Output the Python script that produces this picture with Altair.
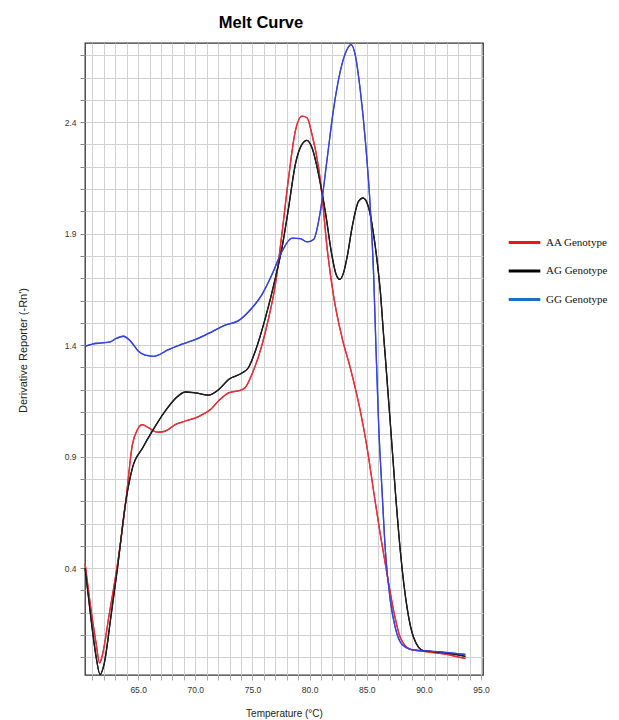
import altair as alt
import pandas as pd

genotypes = ["AA Genotype", "AG Genotype", "GG Genotype"]
line_colors = ["#e3323c", "#1e1e1e", "#3d3de3"]
legend_colors = ["#f01414", "#000000", "#1c6fc6"]

aa_temp = [60.36, 60.86, 61.30, 61.63, 61.87, 62.46, 63.19, 63.92, 64.50, 64.94, 65.35, 65.90,
           66.64, 67.36, 68.24, 69.12, 70.28, 71.30, 72.03, 72.91, 74.08, 74.37, 74.96, 75.83,
           76.41, 77.00, 77.58, 78.16, 78.75, 79.33, 79.77, 80.21, 80.79, 81.09, 81.50, 82.10,
           82.84, 83.56, 84.44, 85.03, 85.60, 86.19, 86.78, 87.36, 87.94, 88.82, 89.70, 90.57,
           91.88, 92.76, 93.63]
aa_value = [0.42, 0.22, 0.07, -0.025, 0.01, 0.19, 0.417, 0.70, 0.955, 1.022, 1.044, 1.03,
            1.01, 1.014, 1.044, 1.06, 1.08, 1.11, 1.15, 1.186, 1.20, 1.21, 1.27, 1.40,
            1.52, 1.67, 1.90, 2.15, 2.36, 2.427, 2.42, 2.345, 2.195, 2.07, 1.85, 1.62,
            1.433, 1.298, 1.104, 0.94, 0.745, 0.55, 0.372, 0.207, 0.088, 0.036, 0.029, 0.022,
            0.015, 0.005, -0.005]

ag_temp = [60.36, 60.86, 61.30, 61.67, 62.02, 62.61, 63.19, 63.92, 64.50, 65.40, 66.30, 67.30,
           68.24, 69.12, 69.99, 71.16, 72.03, 72.91, 74.08, 74.66, 75.25, 76.12, 77.00, 77.58,
           78.16, 78.75, 79.33, 79.77, 80.21, 80.79, 81.37, 81.96, 82.30, 82.63, 83.00, 83.30,
           83.71, 84.29, 84.68, 85.17, 85.60, 86.04, 86.19, 86.45, 86.63, 87.07, 87.50, 87.94,
           88.53, 89.11, 89.98, 90.57, 91.88, 93.63]
ag_value = [0.40, 0.18, 0.01, -0.077, -0.03, 0.18, 0.40, 0.70, 0.85, 0.94, 1.02, 1.10,
            1.16, 1.19, 1.186, 1.176, 1.20, 1.246, 1.275, 1.30, 1.373, 1.52, 1.70, 1.836,
            2.016, 2.21, 2.30, 2.318, 2.285, 2.165, 2.00, 1.80, 1.72, 1.695, 1.73, 1.80,
            1.926, 2.046, 2.06, 2.016, 1.896, 1.717, 1.64, 1.46, 1.343, 1.044, 0.745, 0.476,
            0.222, 0.088, 0.029, 0.027, 0.020, 0.005]

gg_temp = [60.36, 61.00, 61.82, 62.55, 63.07, 63.71, 64.30, 65.03, 65.61, 66.34, 67.65, 68.83,
           69.99, 71.45, 72.62, 73.78, 74.66, 75.83, 76.71, 77.58, 78.46, 79.19, 79.77, 80.35,
           80.94, 81.52, 82.10, 82.69, 83.27, 83.63, 84.00, 84.44, 84.88, 85.31, 85.60, 85.80,
           86.04, 86.34, 86.63, 87.07, 87.50, 88.09, 88.82, 89.70, 91.45, 93.63]
gg_value = [1.395, 1.405, 1.41, 1.415, 1.43, 1.44, 1.42, 1.373, 1.355, 1.35, 1.38, 1.405,
            1.425, 1.46, 1.49, 1.51, 1.55, 1.627, 1.717, 1.82, 1.88, 1.878, 1.863, 1.874,
            2.00, 2.23, 2.46, 2.63, 2.726, 2.748, 2.70, 2.54, 2.315, 2.016, 1.717, 1.40,
            1.044, 0.745, 0.476, 0.252, 0.132, 0.057, 0.036, 0.030, 0.025, 0.013]

x_grid = list(range(61, 96))
y_grid = [round(i * 0.1, 1) for i in range(0, 28)]

rows = []
for g, ts, vs in zip(genotypes, [aa_temp, ag_temp, gg_temp], [aa_value, ag_value, gg_value]):
    for i, (t, v) in enumerate(zip(ts, vs)):
        rows.append({"Genotype": g, "Temperature": t, "Value": v, "order": i})
df = pd.DataFrame(rows)

grid_color = "#d0d0d0"

x_enc = alt.X(
    "Temperature:Q",
    scale=alt.Scale(domain=[60.35, 95.17], nice=False, zero=False),
    axis=alt.Axis(
        values=x_grid,
        labelExpr="datum.value % 5 == 0 ? format(datum.value, '.1f') : ''",
        title="Temperature (°C)",
        titleFont="Liberation Sans", titleFontSize=10, titleFontWeight="normal",
        titleColor="#222", titleX=199, titleY=41, titleAlign="center",
        titleBaseline="alphabetic",
        labelFont="Liberation Sans", labelFontSize=8.5, labelColor="#333",
        labelPadding=5, labelFlush=False, labelOverlap=False,
        tickSize=5, tickColor="#aaaaaa", domain=False,
        gridColor=grid_color, gridWidth=1,
    ),
)
y_enc = alt.Y(
    "Value:Q",
    scale=alt.Scale(domain=[-0.079, 2.755], nice=False, zero=False),
    axis=alt.Axis(
        values=y_grid,
        labelExpr="round(datum.value * 10) % 5 == 4 ? format(datum.value, '.1f') : ''",
        title="Derivative Reporter (-Rn')",
        titleFont="Liberation Sans", titleFontSize=11, titleFontWeight="normal",
        titleColor="#222", titleX=-59, titleY=307, titleAngle=270, titleAlign="center",
        titleBaseline="alphabetic",
        labelFont="Liberation Sans", labelFontSize=8.5, labelColor="#333",
        labelPadding=4, labelOverlap=False, labelFlush=False,
        tickSize=5, tickColor="#888888", domain=False,
        gridColor=grid_color, gridWidth=1,
    ),
)

legend_layer = alt.Chart(df).mark_line(strokeWidth=1.3, interpolate="monotone").encode(
    x=x_enc, y=y_enc, order="order:Q",
    color=alt.Color(
        "Genotype:N",
        scale=alt.Scale(domain=genotypes, range=legend_colors),
        legend=alt.Legend(
            title=None, orient="none", legendX=422, legendY=182,
            symbolType="stroke", symbolSize=1000, symbolStrokeWidth=3, symbolOpacity=1,
            labelFont="Liberation Serif", labelFontSize=11, labelColor="#111",
            labelOffset=4, rowPadding=4.5,
        ),
    ),
)
line_layer = alt.Chart(df).mark_line(strokeWidth=1.3, interpolate="monotone").encode(
    x=x_enc, y=y_enc, order="order:Q",
    color=alt.Color("Genotype:N", scale=alt.Scale(domain=genotypes, range=line_colors), legend=None),
)

chart = alt.layer(legend_layer, line_layer).resolve_scale(color="independent").properties(
    width=398, height=632,
    title=alt.TitleParams("Melt Curve", font="Liberation Sans", fontSize=16.5, fontWeight="bold",
                          anchor="middle", dx=-23, dy=18, offset=15, baseline="alphabetic", color="#000"),
    autosize=alt.AutoSizeParams(type="none"),
    padding={"left": 77, "top": 35, "right": 128, "bottom": 45},
).configure_view(stroke="#333333", strokeWidth=1.3)

chart.save("out.html", embed_options={"renderer": "svg", "actions": False})
